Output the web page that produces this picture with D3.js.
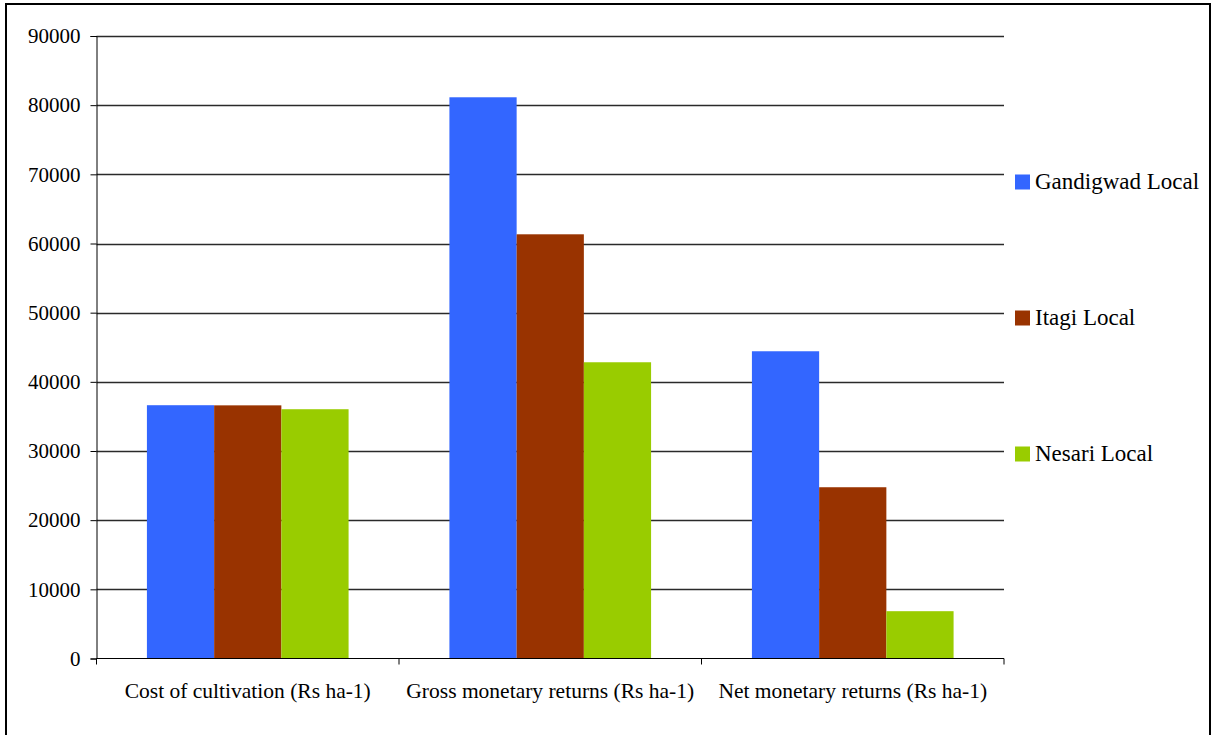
<!DOCTYPE html>
<html>
<head>
<meta charset="utf-8">
<script src="https://cdn.jsdelivr.net/npm/d3@7"></script>
<style>
  html, body { margin: 0; padding: 0; background: #fff; }
  svg { display: block; }
</style>
</head>
<body>
<svg id="chart" width="1216" height="735"></svg>
<script>
// Economics of three local varieties (Rs per hectare)
const categories = [
  "Cost of cultivation (Rs ha-1)",
  "Gross monetary returns (Rs ha-1)",
  "Net monetary returns (Rs ha-1)"
];
const seriesNames = ["Gandigwad Local", "Itagi Local", "Nesari Local"];
const gandigwadLocal = [36620, 81140, 44420];
const itagiLocal     = [36600, 61330, 24760];
const nesariLocal    = [36040, 42830, 6840];
const seriesColors = ["#3366ff", "#993300", "#99cc00"];
const yTicks = [0, 10000, 20000, 30000, 40000, 50000, 60000, 70000, 80000, 90000];

const seriesValues = [gandigwadLocal, itagiLocal, nesariLocal];

const FONT = "'Liberation Serif', Tinos, 'Times New Roman', 'DejaVu Serif', serif";

const svg = d3.select("#chart");
const plotLeft = 96.5, plotRight = 1004, plotTop = 36, plotBottom = 658.5;

// outer frame
svg.append("rect")
  .attr("x", 6).attr("y", 4)
  .attr("width", 1204).attr("height", 740)
  .attr("fill", "none").attr("stroke", "#000").attr("stroke-width", 2);

const y = d3.scaleLinear().domain([0, 90000]).range([plotBottom, plotTop]);
const x0 = d3.scaleBand().domain(categories).range([plotLeft, plotRight]).padding(0);
const x1 = d3.scaleBand().domain(seriesNames)
  .range([0, x0.bandwidth()]).paddingInner(0).paddingOuter(0.75);

// horizontal gridlines
svg.append("g").selectAll("line")
  .data(yTicks.filter(d => d > 0))
  .join("line")
  .attr("x1", plotLeft).attr("x2", plotRight)
  .attr("y1", d => Math.round(y(d)) + 0.5).attr("y2", d => Math.round(y(d)) + 0.5)
  .attr("stroke", "#2a2a2a").attr("stroke-width", 1.3);

// bars
const groups = svg.append("g").selectAll("g")
  .data(categories)
  .join("g")
  .attr("transform", d => `translate(${x0(d)},0)`);

groups.selectAll("rect")
  .data((c, ci) => seriesNames.map((s, si) => ({ s, si, v: seriesValues[si][ci] })))
  .join("rect")
  .attr("x", d => x1(d.s))
  .attr("width", x1.bandwidth())
  .attr("y", d => y(d.v))
  .attr("height", d => y(0) - y(d.v))
  .attr("fill", d => seriesColors[d.si]);

// y axis
const yAxis = d3.axisLeft(y).tickValues(yTicks).tickSize(6).tickPadding(10)
  .tickFormat(d3.format("d"));
svg.append("g")
  .attr("transform", `translate(${plotLeft},0)`)
  .call(yAxis)
  .attr("font-family", FONT)
  .attr("font-size", "21px")
  .call(g => g.select(".domain").attr("stroke", "#000"))
  .call(g => g.selectAll("line").attr("stroke", "#000"))
  .call(g => g.selectAll("text").attr("fill", "#000"));

// x axis with ticks at category boundaries
const boundaries = [0, 1, 2, 3].map(i => plotLeft + i * x0.step());
const xg = svg.append("g");
xg.append("line")
  .attr("x1", plotLeft).attr("x2", plotRight)
  .attr("y1", plotBottom).attr("y2", plotBottom)
  .attr("stroke", "#000");
xg.selectAll("line.tick")
  .data(boundaries)
  .join("line")
  .attr("class", "tick")
  .attr("x1", d => d).attr("x2", d => d)
  .attr("y1", plotBottom).attr("y2", plotBottom + 6)
  .attr("stroke", "#000");
xg.selectAll("text")
  .data(categories)
  .join("text")
  .attr("x", d => x0(d) + x0.bandwidth() / 2)
  .attr("y", 698)
  .attr("text-anchor", "middle")
  .attr("font-family", FONT)
  .attr("font-size", "21.5px")
  .attr("fill", "#000")
  .text(d => d);

// legend
const legendY = [181.5, 317.5, 453.5];
const legend = svg.append("g").selectAll("g")
  .data(seriesNames)
  .join("g")
  .attr("transform", (d, i) => `translate(1015,${legendY[i]})`);
legend.append("rect")
  .attr("x", 0).attr("y", -7)
  .attr("width", 15).attr("height", 15)
  .attr("fill", (d, i) => seriesColors[i]);
legend.append("text")
  .attr("x", 20).attr("y", 7.5)
  .attr("font-family", FONT)
  .attr("font-size", "23px")
  .attr("fill", "#000")
  .text(d => d);
</script>
</body>
</html>
